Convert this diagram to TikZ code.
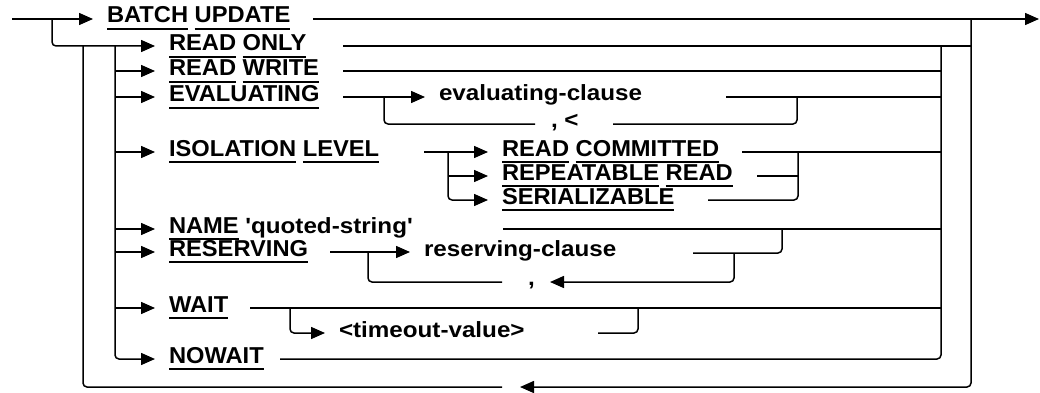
\documentclass[tikz,border=0pt]{standalone}
\usepackage{fontspec}
\setmainfont{Liberation Sans}[FakeStretch=1.03]
\newfontfamily\argfont{Liberation Sans}[FakeStretch=1.1]
\usetikzlibrary{arrows.meta}

\NewDocumentCommand{\kw}{m}{%
\setbox0\hbox{#1}\rlap{\vrule width\wd0 height -5pt depth 7pt}\box0\relax%
}

\tikzset{
  rail/.style={line width=1.5pt, rounded corners=4pt},
  into/.style={rail, -{Triangle[length=14pt,width=12pt]}},
  word/.style={anchor=base west, inner sep=0pt, outer xsep=14pt,
    font=\fontsize{23}{25}\selectfont\bfseries},
  arg/.style={word, font=\fontsize{22}{24}\selectfont\argfont\bfseries},
  sep/.style={arg, outer xsep=0pt}
}

\begin{document}
\begin{tikzpicture}[x=1pt,y=-1pt]
\useasboundingbox (0,0) rectangle (1040,393);

\node[word] (batch) at (93,23) {\kw{BATCH} \kw{UPDATE}};
\node[word] (ronly) at (155,51) {\kw{READ} \kw{ONLY}};
\node[word] (rwrite) at (155,76) {\kw{READ} \kw{WRITE}};
\node[word] (evaluating) at (155,102) {\kw{EVALUATING}};
\node[arg] (evalclause) at (425,101) {evaluating-clause};
\node[sep] (evalsep) at (551,128) {, <};
\node[word] (isolation) at (155,156) {\kw{ISOLATION} \kw{LEVEL}};
\node[word] (committed) at (488,156) {\kw{READ} \kw{COMMITTED}};
\node[word] (repeatable) at (488,180) {\kw{REPEATABLE} \kw{READ}};
\node[word] (serializable) at (488,204) {\kw{SERIALIZABLE}};
\node[word] (name) at (155,233) {\kw{NAME} {\fontsize{22}{24}\argfont 'quoted-string'}};
\node[word] (reserving) at (155,256) {\kw{RESERVING}};
\node[arg] (resclause) at (410,256) {reserving-clause};
\node[sep] (ressep) at (528,285) {,};
\node[word] (wait) at (155,312) {\kw{WAIT}};
\node[arg] (timeout) at (325,337) {<timeout-value>};
\node[word] (nowait) at (155,363) {\kw{NOWAIT}};

% main line and loop back
\draw[into] (12,19) -- (batch.west |- 0,19);
\draw[into] (313,19) -- (1039,19);
\draw[into] (52,19) |- (ronly.west |- 0,46);
\draw[rail] (343,46) -- (971,46);
\draw[into] (971,19) |- (520,387);
\draw[rail] (502,387) -| (83,46);
\draw[into] (115,46) |- (nowait.west |- 0,359);
\foreach \n/\y in {rwrite/71,evaluating/97,isolation/152,name/229,reserving/252,wait/308}
  {\draw[into] (115,\y) -- (\n.west |- 0,\y);}
\draw[rail] (280,359) -| (941,46);
\draw[rail] (343,71) -- (941,71);

% evaluating
\draw[into] (343,97) -- (evalclause.west |- 0,97);
\draw[rail] (384,97) |- (535,124);
\draw[rail] (613,124) -| (797,97);
\draw[rail] (726,97) -- (941,97);

% isolation level
\draw[into] (424,152) -- (committed.west |- 0,152);
\draw[into] (448,176) -- (repeatable.west |- 0,176);
\draw[into] (448,152) |- (serializable.west |- 0,200);
\draw[rail] (742,152) -- (941,152);
\draw[rail] (757,176) -- (798,176);
\draw[rail] (708,200) -| (798,152);

% name
\draw[rail] (503,229) -- (941,229);

% reserving
\draw[into] (330,252) -- (resclause.west |- 0,252);
\draw[rail] (368,252) |- (502,282);
\draw[into] (734,253) |- (550,282);
\draw[rail] (693,253) -| (782,229);

% wait
\draw[rail] (250,308) -- (941,308);
\draw[into] (290,308) |- (timeout.west |- 0,333);
\draw[rail] (598,333) -| (638,308);
\end{tikzpicture}
\end{document}
